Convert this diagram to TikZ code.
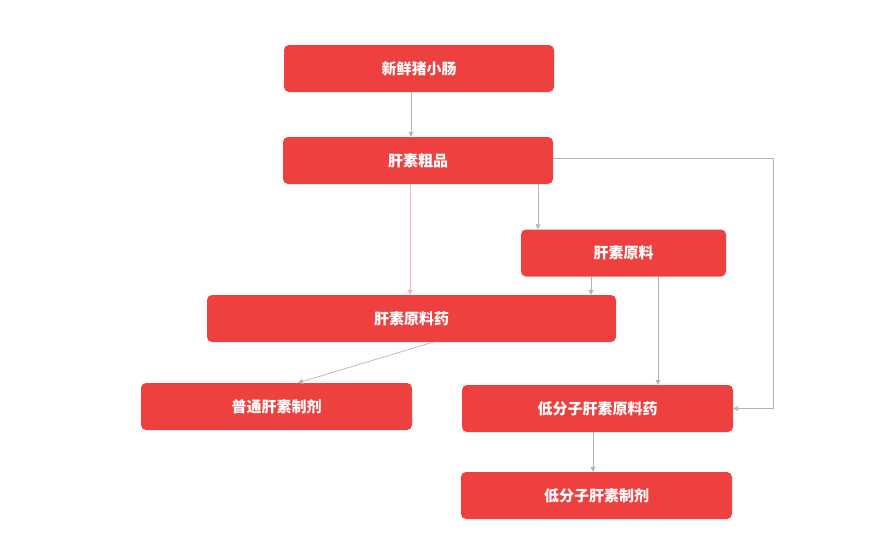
\documentclass[tikz,border=0pt]{standalone}
\usepackage{fontspec}
\newfontfamily\cjk{Noto Sans CJK SC}
\usetikzlibrary{arrows.meta,positioning}
\definecolor{boxred}{HTML}{EF4040}
\definecolor{linegray}{HTML}{B4B4B4}
\begin{document}
\begin{tikzpicture}[
    x=1pt, y=-1pt,
    stepbox/.style={rectangle, rounded corners=5pt, fill=boxred, draw=none,
        text=white, font=\cjk\bfseries\fontsize{15}{18}\selectfont,
        minimum height=47pt, inner sep=0},
    link/.style={draw=linegray, line width=0.7pt, -{Triangle[length=5pt,width=5pt]}}]
\useasboundingbox (0,0) rectangle (880,555);
% boxes
\node[stepbox, minimum width=270pt] (raw) at (419,68.5) {新鲜猪小肠};
\node[stepbox, minimum width=270pt] (crude) at (418,160.5) {肝素粗品};
\node[stepbox, minimum width=205pt] (base) at (623.5,253) {肝素原料};
\node[stepbox, minimum width=409pt] (api) at (411.5,318.5) {肝素原料药};
\node[stepbox, minimum width=271pt] (prep) at (276.5,406.5) {普通肝素制剂};
\node[stepbox, minimum width=271pt] (lmapi) at (597.5,408.5) {低分子肝素原料药};
\node[stepbox, minimum width=271pt] (lmprep) at (596.5,495.5) {低分子肝素制剂};
\coordinate (side) at (773,158);
% links
\draw[link] ([xshift=-8pt]raw.south) -- ([xshift=-7pt]crude.north);
\draw[link, draw=boxred!40] ([xshift=-8pt]crude.south) -- ([xshift=-1.5pt]api.north);
\draw[link] ([xshift=120pt]crude.south) -- ([xshift=-85.5pt]base.north);
\draw[link] (crude.east |- side) -- (side) |- (lmapi.east);
\draw[link] ([xshift=-32.5pt]base.south) -- ([xshift=179.5pt]api.north);
\draw[link] ([xshift=34.5pt]base.south) -- ([xshift=60.5pt]lmapi.north);
\draw[link] ([xshift=21.5pt]api.south) -- ([xshift=21.5pt]prep.north);
\draw[link] ([xshift=-4.5pt]lmapi.south) -- ([xshift=-3.5pt]lmprep.north);
\end{tikzpicture}
\end{document}
